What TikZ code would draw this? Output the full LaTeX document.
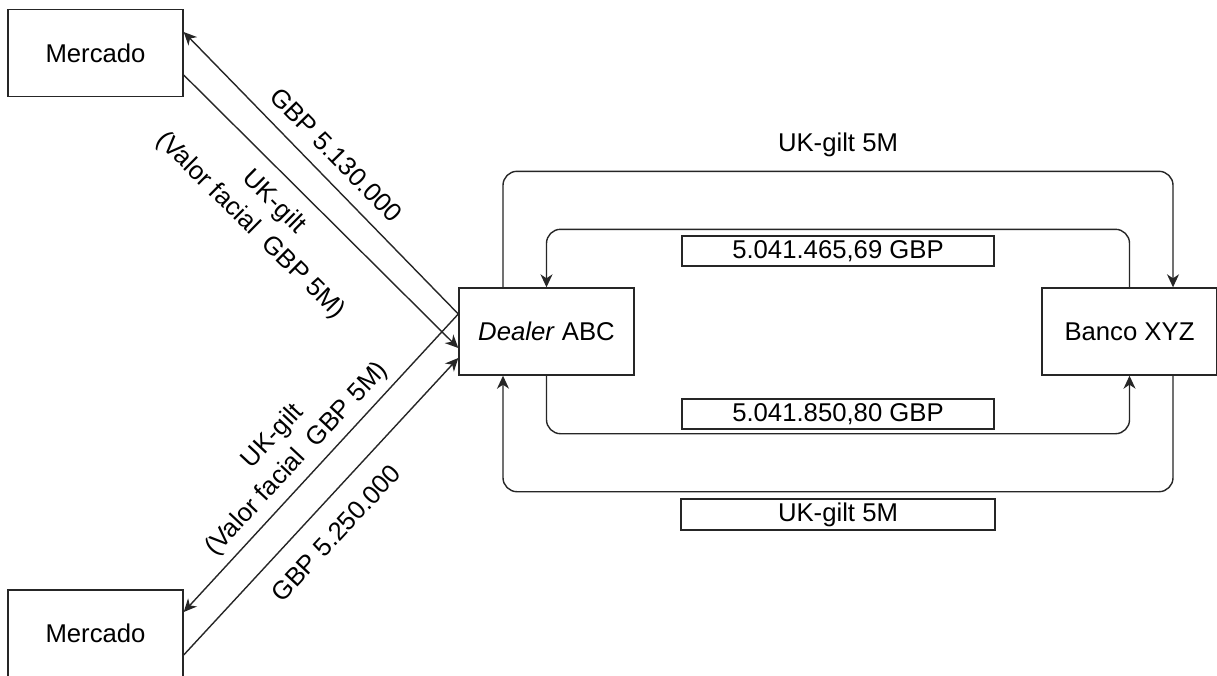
\documentclass[tikz,border=0pt]{standalone}
\usepackage{fontspec}
\setmainfont{Liberation Sans}
\usetikzlibrary{arrows.meta}

\tikzset{
  box/.style={draw=black!85, line width=1.4pt, inner sep=0pt,
              minimum width=175pt, minimum height=87pt,
              font=\fontsize{25.7}{30}\selectfont},
  tagbox/.style={draw=black!85, line width=1.4pt, inner sep=0pt,
                 minimum width=312pt, minimum height=30pt,
                 font=\fontsize{25.7}{30}\selectfont},
  lbl/.style={inner sep=0pt, align=center,
              font=\fontsize{25.7}{33}\selectfont},
  link/.style={draw=black!85, line width=1.4pt},
  arr/.style={link, -{Stealth[length=13pt,width=12pt,inset=4pt]}},
  loop/.style={arr, rounded corners=14pt}
}

\begin{document}
\begin{tikzpicture}[x=1pt, y=-1pt]
  \useasboundingbox (0,0) rectangle (1217,675);
  \fill[white] (0,0) rectangle (1217,675);
  \clip (0,0) rectangle (1217,675);

  % participants
  \node[box] (m1)     at (95.5,53)    {Mercado};
  \node[box] (m2)     at (95.5,633.5) {Mercado};
  \node[box] (dealer) at (546.5,331.5) {\textit{Dealer} ABC};
  \node[box] (banco)  at (1129.5,331.5) {Banco XYZ};

  % purchase and sale on the market
  \draw[arr] ([yshift=17.5pt]dealer.west) -- ([yshift=21pt]m1.east);
  \draw[arr] ([yshift=-22pt]m1.east) -- ([yshift=-16.5pt]dealer.west);
  \draw[arr] ([yshift=17.5pt]dealer.west) -- ([yshift=21.5pt]m2.east);
  \draw[arr] ([yshift=-21.5pt]m2.east) -- ([yshift=-26.5pt]dealer.west);

  \node[lbl, rotate=-45.6] (la) at (336,155) {GBP 5.130.000};
  \node[lbl, rotate=-44.7] (lb) at (262,214) {UK-gilt\\(Valor facial\ \ GBP 5M)};
  \node[lbl, rotate=47]    (lc) at (285,448) {UK-gilt\\(Valor facial\ \ GBP 5M)};
  \node[lbl, rotate=47.1]  (ld) at (336,533) {GBP 5.250.000};

  % repo legs between dealer and bank
  \draw[loop] ([xshift=-43.5pt]dealer.north) -- ++(0,-116) -| ([xshift=43.5pt]banco.north);
  \draw[loop] (banco.north) -- ++(0,-58) -| (dealer.north);
  \draw[loop] (dealer.south) -- ++(0,58) -| (banco.south);
  \draw[loop] ([xshift=43.5pt]banco.south) -- ++(0,116) -| ([xshift=-43.5pt]dealer.south);

  \node[lbl] (top) at (838,145) {UK-gilt 5M};
  \node[tagbox] (p1) at (838,251) {5.041.465,69 GBP};
  \node[tagbox] (p2) at (838,414) {5.041.850,80 GBP};
  \node[tagbox, minimum width=314pt, minimum height=31pt] (g2) at (838,514.5) {UK-gilt 5M};
\end{tikzpicture}
\end{document}
